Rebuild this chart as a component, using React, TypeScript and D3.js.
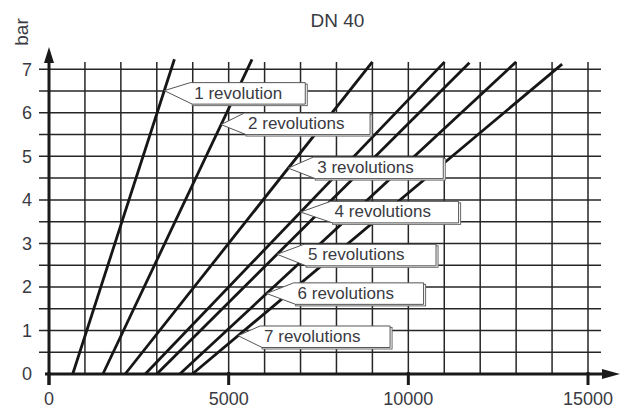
import React from "react";
import * as d3 from "d3";

// ---- data ----
const title = "DN 40";
const yUnit = "bar";
const xTicks = [0, 5000, 10000, 15000];
const yTicks = [0, 1, 2, 3, 4, 5, 6, 7];
const seriesNames = [
  "1 revolution",
  "2 revolutions",
  "3 revolutions",
  "4 revolutions",
  "5 revolutions",
  "6 revolutions",
  "7 revolutions",
];
// each series: [flow, pressure(bar)] points
const rev1: [number, number][] = [[660, 0], [3490, 7.23]];
const rev2: [number, number][] = [[1500, 0], [5650, 7.23]];
const rev3: [number, number][] = [[2120, 0], [9000, 7.17]];
const rev4: [number, number][] = [[2680, 0], [11010, 7.17]];
const rev5: [number, number][] = [[3000, 0], [11700, 7.15]];
const rev6: [number, number][] = [[3640, 0], [13000, 7.17]];
const rev7: [number, number][] = [[3990, 0], [14280, 7.12]];
const series = [rev1, rev2, rev3, rev4, rev5, rev6, rev7];
// pressure at which each callout points to its line
const labelAt = [6.51, 5.73, 4.73, 3.72, 2.75, 1.85, 0.88];

// ---- layout ----
const W = 625;
const H = 410;
const x = d3.scaleLinear().domain([0, 15000]).range([49, 588]);
const y = d3.scaleLinear().domain([0, 7]).range([374, 69.3]);
const xGrid = d3.range(1000, 15001, 1000);
const yGrid = d3.range(0.5, 7.01, 0.5);
const labelBoxes = [
  { dx: 26, dy: -8, w: 115 },
  { dx: 23, dy: -11.5, w: 126 },
  { dx: 25, dy: -11, w: 130 },
  { dx: 30, dy: -10.7, w: 128 },
  { dx: 27, dy: -10, w: 132 },
  { dx: 27, dy: -10.6, w: 130 },
  { dx: 22, dy: -9.7, w: 130 },
];
const BOX_H = 21.5;
const TXT = "#3a3a42";
const FONT = "'Liberation Sans', Arial, sans-serif";

function interpX(pts: [number, number][], b: number) {
  const [p0, p1] = pts;
  const t = (b - p0[1]) / (p1[1] - p0[1]);
  return p0[0] + t * (p1[0] - p0[0]);
}

export default function App() {
  const line = d3
    .line<[number, number]>()
    .x((d) => x(d[0]))
    .y((d) => y(d[1]));
  const x0 = x(0);
  const y0 = y(0);
  const xEnd = x(15000);
  const gridTop = y(7.17);

  return (
    <svg
      width={W}
      height={H}
      viewBox={`0 0 ${W} ${H}`}
      style={{ position: "absolute", left: 0, top: 0, background: "#fff" }}
    >
      {/* title */}
      <text x={337.5} y={26.5} textAnchor="middle" fontFamily={FONT} fontSize={19} fill={TXT}>
        {title}
      </text>
      <text
        transform={`translate(28,32) rotate(-90)`}
        textAnchor="middle"
        fontFamily={FONT}
        fontSize={19}
        fill={TXT}
      >
        {yUnit}
      </text>

      {/* grid */}
      <g stroke="#262626" strokeWidth={1.5}>
        {xGrid.map((v) => (
          <line key={"gx" + v} x1={x(v)} x2={x(v)} y1={y0} y2={gridTop} />
        ))}
        {yGrid.map((v) => (
          <line key={"gy" + v} x1={x0 - 10} x2={xEnd + 13} y1={y(v)} y2={y(v)} />
        ))}
      </g>

      {/* axes */}
      <g stroke="#1a1a1a" strokeWidth={3}>
        <line x1={x0} x2={x0} y1={y0 + 11} y2={60} />
        <line x1={x0 - 4} x2={603} y1={y0} y2={y0} />
        {xTicks.map((v) => (
          <line key={"xt" + v} x1={x(v)} x2={x(v)} y1={y0 - 2} y2={y0 + 11} />
        ))}
      </g>
      <path d={`M${x0},47 L${x0 - 5},63 L${x0 + 5},63 Z`} fill="#1a1a1a" />
      <path d={`M620,${y0} L602,${y0 - 5} L602,${y0 + 5} Z`} fill="#1a1a1a" />

      {/* tick labels */}
      {xTicks.map((v) => (
        <text key={"xl" + v} x={x(v)} y={405} textAnchor="middle" fontFamily={FONT} fontSize={18} fill={TXT}>
          {v}
        </text>
      ))}
      {yTicks.map((v) => (
        <text
          key={"yl" + v}
          x={32}
          y={y(v)}
          dy="0.36em"
          textAnchor="end"
          fontFamily={FONT}
          fontSize={18}
          fill={TXT}
        >
          {v}
        </text>
      ))}

      {/* curves */}
      <g fill="none" stroke="#161616" strokeWidth={2.8} strokeLinecap="butt">
        {series.map((s, i) => (
          <path key={"s" + i} d={line(s) || ""} />
        ))}
      </g>

      {/* callouts */}
      {seriesNames.map((name, i) => {
        const b = labelAt[i];
        const tx = x(interpX(series[i], b));
        const ty = y(b);
        const L = labelBoxes[i];
        const left = tx + L.dx;
        const top = ty + L.dy;
        const right = left + L.w;
        const bottom = top + BOX_H;
        const shape = `M${tx},${ty} L${left},${top} L${right},${top} L${right},${bottom} L${left + 2},${bottom} Z`;
        return (
          <g key={"lab" + i}>
            <rect x={left + 2} y={top + 1.5} width={L.w} height={BOX_H} fill="#fff" stroke="#6a6a6a" strokeWidth={1} />
            <path d={shape} fill="#fff" stroke="#555" strokeWidth={1} />
            <text x={left + 4} y={top + 16} fontFamily={FONT} fontSize={17} fill={TXT}>
              {name}
            </text>
          </g>
        );
      })}
    </svg>
  );
}
